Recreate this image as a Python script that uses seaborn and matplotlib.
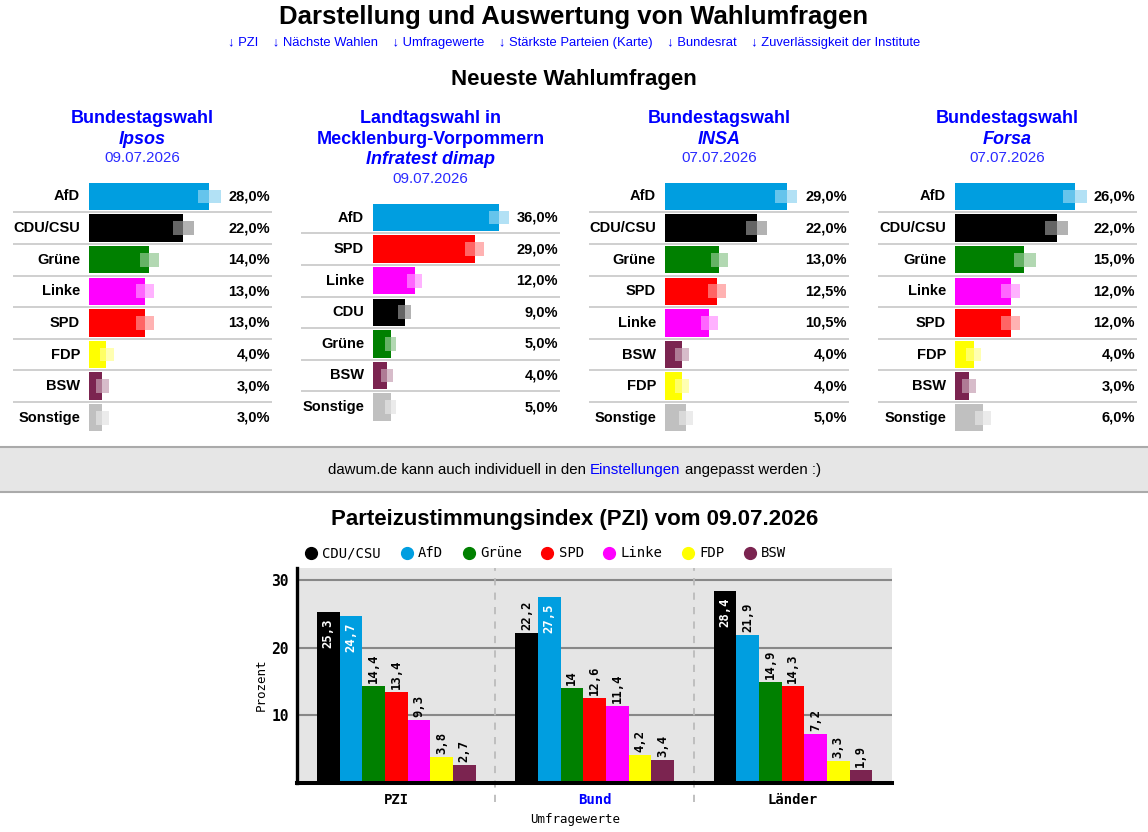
import numpy as np
import pandas as pd
import seaborn as sns
import matplotlib.pyplot as plt
from matplotlib.patches import Rectangle
from matplotlib.lines import Line2D

W, H = 1148, 832

# Parteifarben
farben = {"AfD": "#009ee0", "CDU/CSU": "#000000", "CDU": "#000000", "Grüne": "#008000",
          "Linke": "#ff00ff", "SPD": "#ff0000", "FDP": "#ffff00", "BSW": "#7b2450",
          "Sonstige": "#c0c0c0"}

# Umfragen (Wert, Spanne von/bis)
ipsos_parteien = ["AfD", "CDU/CSU", "Grüne", "Linke", "SPD", "FDP", "BSW", "Sonstige"]
ipsos_werte = [28.0, 22.0, 14.0, 13.0, 13.0, 4.0, 3.0, 3.0]
ipsos_von = [25.4, 19.6, 11.9, 11.0, 11.0, 2.6, 1.6, 1.6]
ipsos_bis = [30.8, 24.5, 16.3, 15.2, 15.2, 5.8, 4.7, 4.7]

mv_parteien = ["AfD", "SPD", "Linke", "CDU", "Grüne", "BSW", "Sonstige"]
mv_werte = [36.0, 29.0, 12.0, 9.0, 5.0, 4.0, 5.0]
mv_von = [33.1, 26.3, 9.7, 7.1, 3.4, 2.3, 3.4]
mv_bis = [38.9, 31.7, 14.0, 10.9, 6.6, 5.7, 6.6]

insa_parteien = ["AfD", "CDU/CSU", "Grüne", "SPD", "Linke", "BSW", "FDP", "Sonstige"]
insa_werte = [29.0, 22.0, 13.0, 12.5, 10.5, 4.0, 4.0, 5.0]
insa_von = [26.3, 19.4, 11.0, 10.2, 8.6, 2.3, 2.3, 3.3]
insa_bis = [31.6, 24.4, 15.1, 14.6, 12.7, 5.7, 5.7, 6.7]

forsa_parteien = ["AfD", "CDU/CSU", "Grüne", "Linke", "SPD", "FDP", "BSW", "Sonstige"]
forsa_werte = [26.0, 22.0, 15.0, 12.0, 12.0, 4.0, 3.0, 6.0]
forsa_von = [23.4, 19.5, 12.8, 10.0, 10.0, 2.4, 1.5, 4.3]
forsa_bis = [28.6, 24.5, 17.4, 14.1, 14.1, 5.7, 4.6, 7.8]

# PZI
pzi_gruppen = ["PZI", "Bund", "Länder"]
pzi_parteien = ["CDU/CSU", "AfD", "Grüne", "SPD", "Linke", "FDP", "BSW"]
pzi_pzi = [25.3, 24.7, 14.4, 13.4, 9.3, 3.8, 2.7]
pzi_bund = [22.2, 27.5, 14.0, 12.6, 11.4, 4.2, 3.4]
pzi_laender = [28.4, 21.9, 14.9, 14.3, 7.2, 3.3, 1.9]

links = ["PZI", "Nächste Wahlen", "Umfragewerte", "Stärkste Parteien (Karte)",
         "Bundesrat", "Zuverlässigkeit der Institute"]

plt.rcParams['font.family'] = ['Liberation Sans', 'DejaVu Sans']
fig = plt.figure(figsize=(W / 100, H / 100), dpi=100)
blau = "#0000ff"


def txt(x, y, s, **kw):
    ha = kw.pop('ha', 'center')
    va = kw.pop('va', 'center')
    return fig.text(x / W, 1 - y / H, s, ha=ha, va=va, **kw)


def ax_px(l, t, r, b):
    return fig.add_axes([l / W, 1 - b / H, (r - l) / W, (b - t) / H])


# Kopf
txt(574, 17, "Darstellung und Auswertung von Wahlumfragen", fontsize=18.5, fontweight='bold')
txt(574.5, 43, "    ".join("↓ " + l for l in links), fontsize=9.4, color=blau)
txt(574, 80, "Neueste Wahlumfragen", fontsize=16, fontweight='bold')


def umfrage_panel(parteien, werte, von, bis, titel, datum, x0, xb, x1, ppp, y0):
    n = len(parteien)
    row = 31.6
    top = y0 - row / 2
    ax = ax_px(x0, top, x1, top + n * row)
    df = pd.DataFrame({"partei": parteien, "wert": werte})
    sns.barplot(data=df, x="wert", y="partei", hue="partei", orient="h",
                palette=[farben[p] for p in parteien], saturation=1, width=0.87,
                legend=False, ax=ax)
    # Spanne: heller Teil im Balken, blasser Teil dahinter
    ax.barh(range(n), np.minimum(werte, bis) - np.array(von), left=von, height=0.44,
            color="white", alpha=0.4, zorder=3)
    ax.barh(range(n), np.array(bis) - np.array(werte), left=werte, height=0.44,
            color=[farben[p] for p in parteien], alpha=0.3, zorder=3)
    ax.set_xlim((x0 - xb) / ppp, (x1 - xb) / ppp)
    ax.set_ylim(n - 0.5, -0.5)
    for i in range(n - 1):
        ax.axhline(i + 0.5, color="#cccccc", lw=1.3)
    for i, (p, w) in enumerate(zip(parteien, werte)):
        ax.text(-9 / ppp, i, p, ha='right', va='center', fontsize=10.5, fontweight='bold')
        ax.text((x1 - 2 - xb) / ppp, i, f"{w:.1f}".replace('.', ',') + "%",
                ha='right', va='center', fontsize=10.5, fontweight='bold')
    ax.axis('off')
    xm = (x0 + x1) / 2
    yt = 118.5
    for s, stil in titel:
        txt(xm, yt, s, fontsize=13, fontweight='bold', style=stil, color=blau)
        yt += 20.5
    txt(xm, yt - 1, datum, fontsize=10.8, color="#2a2aff")


umfrage_panel(ipsos_parteien, ipsos_werte, ipsos_von, ipsos_bis,
              [("Bundestagswahl", 'normal'), ("Ipsos", 'italic')], "09.07.2026",
              13, 89, 272, 4.286, 196.5)
umfrage_panel(mv_parteien, mv_werte, mv_von, mv_bis,
              [("Landtagswahl in", 'normal'), ("Mecklenburg-Vorpommern", 'normal'),
               ("Infratest dimap", 'italic')], "09.07.2026",
              301, 373, 560, 3.5, 217.5)
umfrage_panel(insa_parteien, insa_werte, insa_von, insa_bis,
              [("Bundestagswahl", 'normal'), ("INSA", 'italic')], "07.07.2026",
              589, 665, 849, 4.19, 196.5)
umfrage_panel(forsa_parteien, forsa_werte, forsa_von, forsa_bis,
              [("Bundestagswahl", 'normal'), ("Forsa", 'italic')], "07.07.2026",
              878, 955, 1137, 4.63, 196.5)

# grauer Hinweisbalken
fig.add_artist(Rectangle((0, 1 - 492 / H), 1, 45 / H, transform=fig.transFigure,
                         facecolor="#e6e6e6", edgecolor="none"))
for yl in (447, 492):
    fig.add_artist(Line2D([0, 1], [1 - yl / H] * 2, transform=fig.transFigure,
                          color="#aaaaaa", lw=1.5))
teile = [("dawum.de kann auch individuell in den", "black"), ("Einstellungen", blau),
         ("angepasst werden :)", "black")]
r = fig.canvas.get_renderer()
objs = [txt(0, 470, s, ha='left', fontsize=10.8, color=c) for s, c in teile]
breiten = [o.get_window_extent(r).width for o in objs]
luecke = 4
x = 574.5 - (sum(breiten) + 2 * luecke) / 2
for o, b in zip(objs, breiten):
    o.set_x(x / W)
    x += b + luecke

txt(575, 520, "Parteizustimmungsindex (PZI) vom 09.07.2026", fontsize=16, fontweight='bold')

# PZI-Diagramm
mono = "DejaVu Sans Mono"
ax2 = ax_px(297, 568, 892, 783)
df_pzi = pd.DataFrame({"gruppe": np.repeat(pzi_gruppen, len(pzi_parteien)),
                       "partei": pzi_parteien * 3,
                       "wert": pzi_pzi + pzi_bund + pzi_laender})
sns.barplot(data=df_pzi, x="gruppe", y="wert", hue="partei",
            palette=[farben[p] for p in pzi_parteien], saturation=1, width=0.8,
            errorbar=None, ax=ax2, zorder=2)
ax2.legend_.remove()
ax2.set_facecolor("#e5e5e5")
ax2.set_ylim(0, 31.8)
ax2.set_xlim(-0.5, 2.5)
ax2.set_yticks([10, 20, 30])
ax2.yaxis.grid(True, color="#888888", lw=1.5)
ax2.set_axisbelow(True)
ax2.vlines([0.5, 1.5], -2.8, 31.8, colors="#bbbbbb", linestyles=(0, (4, 4)),
           lw=1.3, clip_on=False, zorder=1)
for s in ("top", "right"):
    ax2.spines[s].set_visible(False)
ax2.spines["left"].set_linewidth(2.4)
ax2.spines["bottom"].set_linewidth(2.9)
ax2.tick_params(length=0)
ax2.tick_params(axis='y', pad=6)
ax2.tick_params(axis='x', pad=7)
for t in ax2.get_yticklabels():
    t.set_fontfamily(mono)
    t.set_fontsize(10.5)
    t.set_fontweight('bold')
for t in ax2.get_xticklabels():
    t.set_fontfamily(mono)
    t.set_fontsize(10)
    t.set_fontweight('bold')
ax2.get_xticklabels()[1].set_color(blau)
ax2.set_ylabel("Prozent", fontfamily=mono, fontsize=9)
ax2.yaxis.set_label_coords(-0.049, 0.456)
ax2.set_xlabel("Umfragewerte", fontfamily=mono, fontsize=9)
ax2.xaxis.set_label_coords(0.467, -0.14)

for cont in ax2.containers:
    for bar in cont:
        v = bar.get_height()
        xm = bar.get_x() + bar.get_width() / 2
        lab = f"{v:g}".replace('.', ',')
        if v > 23:
            ax2.annotate(lab, (xm, v), xytext=(0, -4.5), textcoords='offset points',
                         rotation=90, ha='center', va='top', color='white',
                         fontfamily=mono, fontsize=8.8, fontweight='bold')
        else:
            ax2.annotate(lab, (xm, v), xytext=(0, 2.2), textcoords='offset points',
                         rotation=90, ha='center', va='bottom', color='black',
                         fontfamily=mono, fontsize=8.8, fontweight='bold')

handles = [Line2D([], [], marker='o', ls='', markersize=8.5,
                  markerfacecolor=farben[p], markeredgecolor=farben[p]) for p in pzi_parteien]
ax2.legend(handles, pzi_parteien, ncol=7, loc='lower left', bbox_to_anchor=(0.016, 1.035),
           frameon=False, handlelength=0.7, handletextpad=0.45, columnspacing=1.5,
           borderaxespad=0, borderpad=0, prop={'family': mono, 'size': 10})

fig.savefig("out.png", dpi=100)
